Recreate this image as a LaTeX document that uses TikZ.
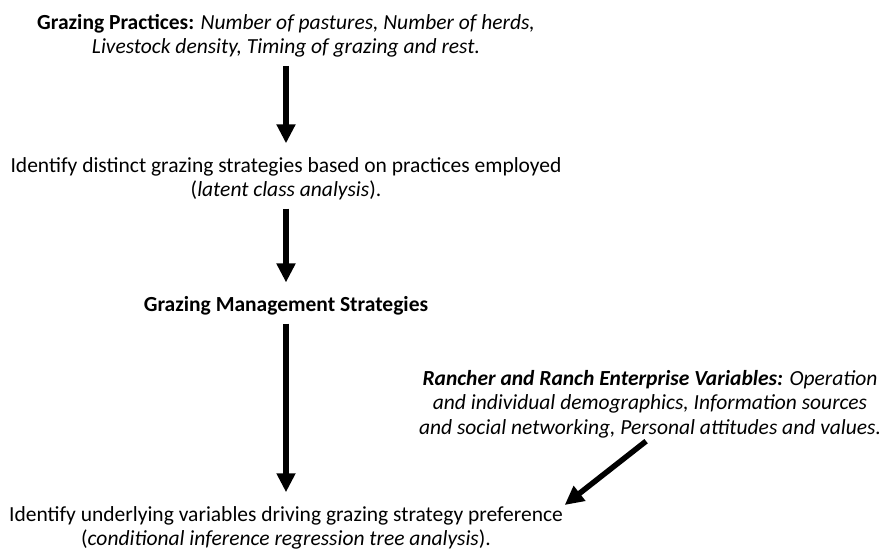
\documentclass[tikz,border=0pt]{standalone}
\usepackage{fontspec}
\setmainfont{Carlito}
\usetikzlibrary{arrows.meta}
\tikzstyle{node_text} = [align=center, inner sep=0pt, font=\fontsize{21.5}{24.5}\selectfont]
\tikzstyle{edge_arrow} = [line width=5.5pt, -{Triangle[width=18pt,length=19pt]}, shorten <=8pt, shorten >=14pt]

\begin{document}
\begin{tikzpicture}[x=1pt, y=-1pt]
			\useasboundingbox (0,0) rectangle (882,552);
			\node (GP) at (286,36) [node_text] {\textbf{Grazing Practices:} \textit{Number of pastures, Number of herds,}\\\textit{Livestock density, Timing of grazing and rest.}};
			\node (ID) at (286,179) [node_text] {Identify distinct grazing strategies based on practices employed\\(\textit{latent class analysis}).};
			\node (GM) at (286,306) [node_text] {\textbf{Grazing Management Strategies}};
			\node (UV) at (286,528) [node_text] {Identify underlying variables driving grazing strategy preference\\(\textit{conditional inference regression tree analysis}).};
			\node (RV) at (650,404) [node_text] {\textbf{\textit{Rancher and Ranch Enterprise Variables:}} \textit{Operation}\\\textit{and individual demographics, Information sources}\\\textit{and social networking, Personal attitudes and values.}};
			
			\draw[edge_arrow] (GP)--(ID);
			\draw[edge_arrow] (ID)--(GM);
			\draw[edge_arrow] (GM)--(UV);
			\draw[edge_arrow, shorten <=5pt, shorten >=2pt] (RV.south)--(UV.north east);
		\end{tikzpicture}
\end{document}
